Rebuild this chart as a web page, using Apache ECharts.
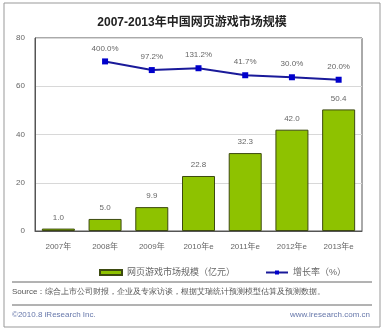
<!DOCTYPE html>
<html><head><meta charset="utf-8">
<script src="https://cdn.jsdelivr.net/npm/echarts@6/dist/echarts.min.js"></script>
<style>html,body{margin:0;padding:0;background:#fff}#c{width:384px;height:333px}</style>
</head><body><div id="c"></div>
<script>
const categories = ['2007年','2008年','2009年','2010年e','2011年e','2012年e','2013年e'];
const marketSize = [1.0, 5.0, 9.9, 22.8, 32.3, 42.0, 50.4];
const growthRate = [null, 400.0, 97.2, 131.2, 41.7, 30.0, 20.0];
const yTicks = [0, 20, 40, 60, 80];

const chart = echarts.init(document.getElementById('c'));
const font = '"Liberation Sans", "Noto Sans CJK SC", sans-serif';
chart.setOption({
  animation: false,
  textStyle: {fontFamily: font},
  title: {
    text: '2007-2013年中国网页游戏市场规模',
    left: 'center', top: 12,
    textStyle: {fontSize: 12, fontWeight: 'bold', color: '#222', fontFamily: font}
  },
  grid: {left: 35, right: 22, top: 38, bottom: 102, show: true, borderColor: '#555', borderWidth: 1},
  legend: {
    left: 94, top: 263, itemGap: 30,
    itemWidth: 22, itemHeight: 5,
    textStyle: {fontSize: 9, color: '#666'},
    data: [
      {name: '网页游戏市场规模（亿元）', icon: 'rect'},
      {name: '增长率（%）'}
    ]
  },
  xAxis: {
    type: 'category', data: categories,
    axisLine: {lineStyle: {color: '#555'}},
    axisTick: {show: false},
    axisLabel: {fontSize: 8, color: '#666', margin: 12}
  },
  yAxis: [{
    type: 'value', min: yTicks[0], max: yTicks[yTicks.length-1], interval: 20,
    axisLine: {show: true, lineStyle: {color: '#555'}},
    axisTick: {show: false},
    axisLabel: {fontSize: 8, color: '#666', margin: 10},
    splitLine: {lineStyle: {color: '#d8d8d8'}}
  }, {
    type: 'log', min: Math.pow(10, -9.44), max: Math.pow(10, 4.265), show: false,
    splitLine: {show: false}
  }],
  series: [{
    name: '网页游戏市场规模（亿元）', type: 'bar', data: marketSize,
    barWidth: 33,
    itemStyle: {color: '#8ec200', borderColor: '#3d4a10', borderWidth: 1},
    label: {show: true, position: 'top', fontSize: 8, color: '#666', distance: 7,
      formatter: p => p.value.toFixed(1)}
  }, {
    name: '增长率（%）', type: 'line', yAxisIndex: 1, data: growthRate,
    symbol: 'rect', symbolSize: 6,
    lineStyle: {color: '#1a1a9a', width: 2},
    itemStyle: {color: '#0000cc'},
    label: {show: true, position: 'top', fontSize: 8, color: '#666', distance: 6,
      formatter: p => p.value.toFixed(1) + '%'}
  }],
  graphic: [
    {type: 'rect', shape: {x: 4, y: 3, width: 376, height: 324}, style: {fill: 'none', stroke: '#999', lineWidth: 1}, z: -1},
    {type: 'line', shape: {x1: 12, y1: 282, x2: 372, y2: 282}, style: {stroke: '#666', lineWidth: 1}},
    {type: 'line', shape: {x1: 12, y1: 305, x2: 372, y2: 305}, style: {stroke: '#666', lineWidth: 1}},
    {type: 'text', left: 12, top: 288, style: {text: 'Source：综合上市公司财报，企业及专家访谈，根据艾瑞统计预测模型估算及预测数据。', fontSize: 8, fill: '#555', font: '8px ' + font}},
    {type: 'text', left: 12, top: 311, style: {text: '©2010.8 iResearch Inc.', fill: '#6677aa', font: '8px ' + font}},
    {type: 'text', right: 14, top: 311, style: {text: 'www.iresearch.com.cn', fill: '#6677aa', font: '8px ' + font}}
  ]
});
</script></body></html>
